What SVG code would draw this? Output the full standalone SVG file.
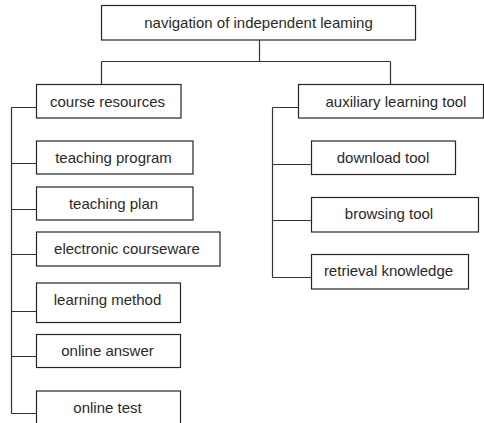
<svg xmlns="http://www.w3.org/2000/svg" width="484" height="423" viewBox="0 0 484 423">
<style>
.box{fill:#fff;stroke:#262626;stroke-width:1.2}
.lbl{font-family:"Liberation Sans",Arial,sans-serif;font-size:15px;fill:#2a2a2a;text-anchor:middle}
.con{stroke:#333;stroke-width:1.2;fill:none}
</style>
<rect width="484" height="423" fill="#fff"/>
<g id="connectors">
<path class="con" d="M259.5 40V61.5M101.5 61.5H390.5M101.5 61.5V84.5M390.5 61.5V84.5"/>
<path class="con" d="M11.5 107.5H36.5M11.5 107.5V413.5M11.5 163.5H36.5M11.5 209.5H36.5M11.5 254.5H36.5M11.5 311.5H36.5M11.5 356.5H36.5M11.5 413.5H36.5"/>
<path class="con" d="M272.5 107.5H298.5M272.5 107.5V277.5M272.5 164.5H311.5M272.5 220.5H311.5M272.5 277.5H311.5"/>
</g>
<g id="root"><rect class="box" x="101.5" y="5.5" width="314" height="34.5"/><text class="lbl" x="258.5" y="28">navigation of independent leaming</text></g>
<g id="course-resources"><rect class="box" x="36.5" y="84.5" width="144.5" height="33.5"/><text class="lbl" x="107.5" y="107">course resources</text></g>
<g id="auxiliary-learning-tool"><rect class="box" x="298.5" y="84.5" width="185" height="33.5"/><text class="lbl" x="396" y="106.5">auxiliary learning tool</text></g>
<g id="teaching-program"><rect class="box" x="36.5" y="141" width="156.5" height="33"/><text class="lbl" x="113.5" y="163">teaching program</text></g>
<g id="teaching-plan"><rect class="box" x="36.5" y="187" width="156.5" height="33"/><text class="lbl" x="113.5" y="208.5">teaching plan</text></g>
<g id="electronic-courseware"><rect class="box" x="36.5" y="232" width="183.5" height="34"/><text class="lbl" x="127" y="254">electronic courseware</text></g>
<g id="learning-method"><rect class="box" x="36.5" y="283" width="144" height="39.5"/><text class="lbl" x="107.5" y="305">learning method</text></g>
<g id="online-answer"><rect class="box" x="36.5" y="334.5" width="144" height="33"/><text class="lbl" x="107.5" y="356">online answer</text></g>
<g id="online-test"><rect class="box" x="36.5" y="391" width="144" height="34"/><text class="lbl" x="107.5" y="412.5">online test</text></g>
<g id="download-tool"><rect class="box" x="311.5" y="141" width="144" height="33.5"/><text class="lbl" x="383" y="162.5">download tool</text></g>
<g id="browsing-tool"><rect class="box" x="311.5" y="197.5" width="167" height="34.5"/><text class="lbl" x="389" y="219">browsing tool</text></g>
<g id="retrieval-knowledge"><rect class="box" x="311.5" y="254.5" width="157" height="34.5"/><text class="lbl" x="388.5" y="276">retrieval knowledge</text></g>
</svg>
